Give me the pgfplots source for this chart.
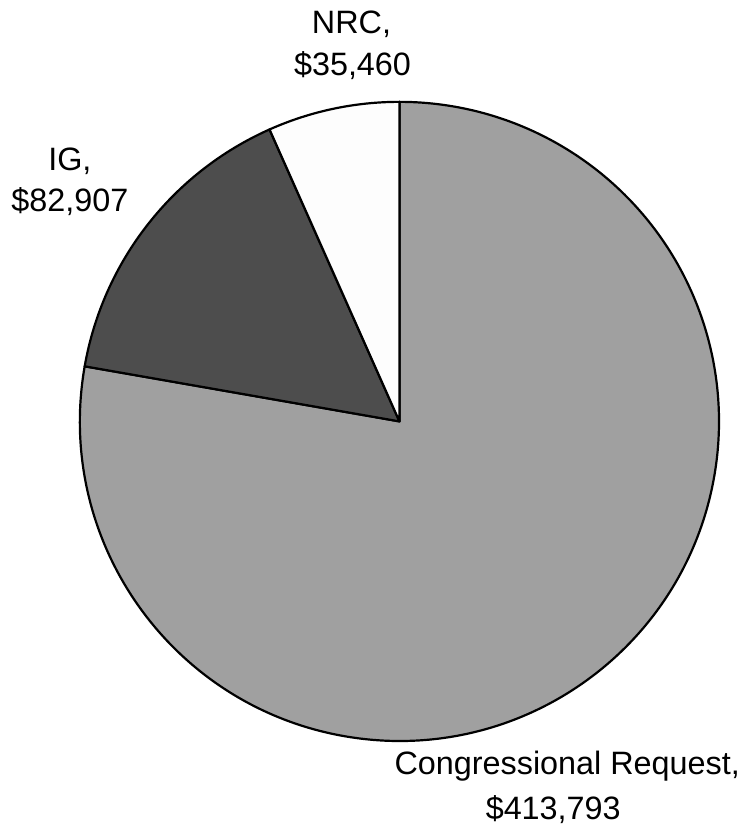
\documentclass[border=0pt]{standalone}
\usepackage{fontspec}
\setmainfont{Liberation Sans}
\usepackage{pgfplots}
\pgfplotsset{compat=1.18}
\usepackage{pgfplotstable}

% slice values (thousands of dollars), counter-clockwise from the top
\def\vNRC{35.460}
\def\vIG{82.907}
\def\vCR{413.793}
\pgfmathsetmacro\tot{\vNRC+\vIG+\vCR}
\pgfmathsetmacro\aA{90}
\pgfmathsetmacro\aB{\aA+360*(\vNRC/\tot)}
\pgfmathsetmacro\aC{\aB+360*(\vIG/\tot)}
\pgfmathsetmacro\aD{\aC+360*(\vCR/\tot)}

\definecolor{cr}{RGB}{160,160,160}
\definecolor{ig}{RGB}{77,77,77}
\definecolor{nrc}{RGB}{253,253,253}

\begin{document}
\begin{tikzpicture}
\begin{axis}[
  width=370pt, height=412pt, scale only axis,
  xmin=0, xmax=740, ymin=0, ymax=824,
  hide axis, clip=false,
]
  \path (axis cs:0,0) rectangle (axis cs:740,824);
  \filldraw[fill=cr, line width=1.1pt, line join=round]
    (axis cs:400,402) -- ++(\aC:160pt) arc[start angle=\aC, end angle=\aD, radius=160pt] -- cycle;
  \filldraw[fill=ig, line width=1.1pt, line join=round]
    (axis cs:400,402) -- ++(\aB:160pt) arc[start angle=\aB, end angle=\aC, radius=160pt] -- cycle;
  \filldraw[fill=nrc, line width=1.1pt, line join=round]
    (axis cs:400,402) -- ++(\aA:160pt) arc[start angle=\aA, end angle=\aB, radius=160pt] -- cycle;

  \begin{scope}[every node/.style={anchor=base, inner sep=0pt, font=\fontsize{16.2}{19}\selectfont}]
    \node at (axis cs:352,790) {NRC,};
    \node at (axis cs:353,748) {\$35,460};
    \node at (axis cs:70,653) {IG,};
    \node at (axis cs:70,612) {\$82,907};
    \node at (axis cs:568,48) {Congressional Request,};
    \node at (axis cs:554,3) {\$413,793};
  \end{scope}
\end{axis}
\end{tikzpicture}
\end{document}
